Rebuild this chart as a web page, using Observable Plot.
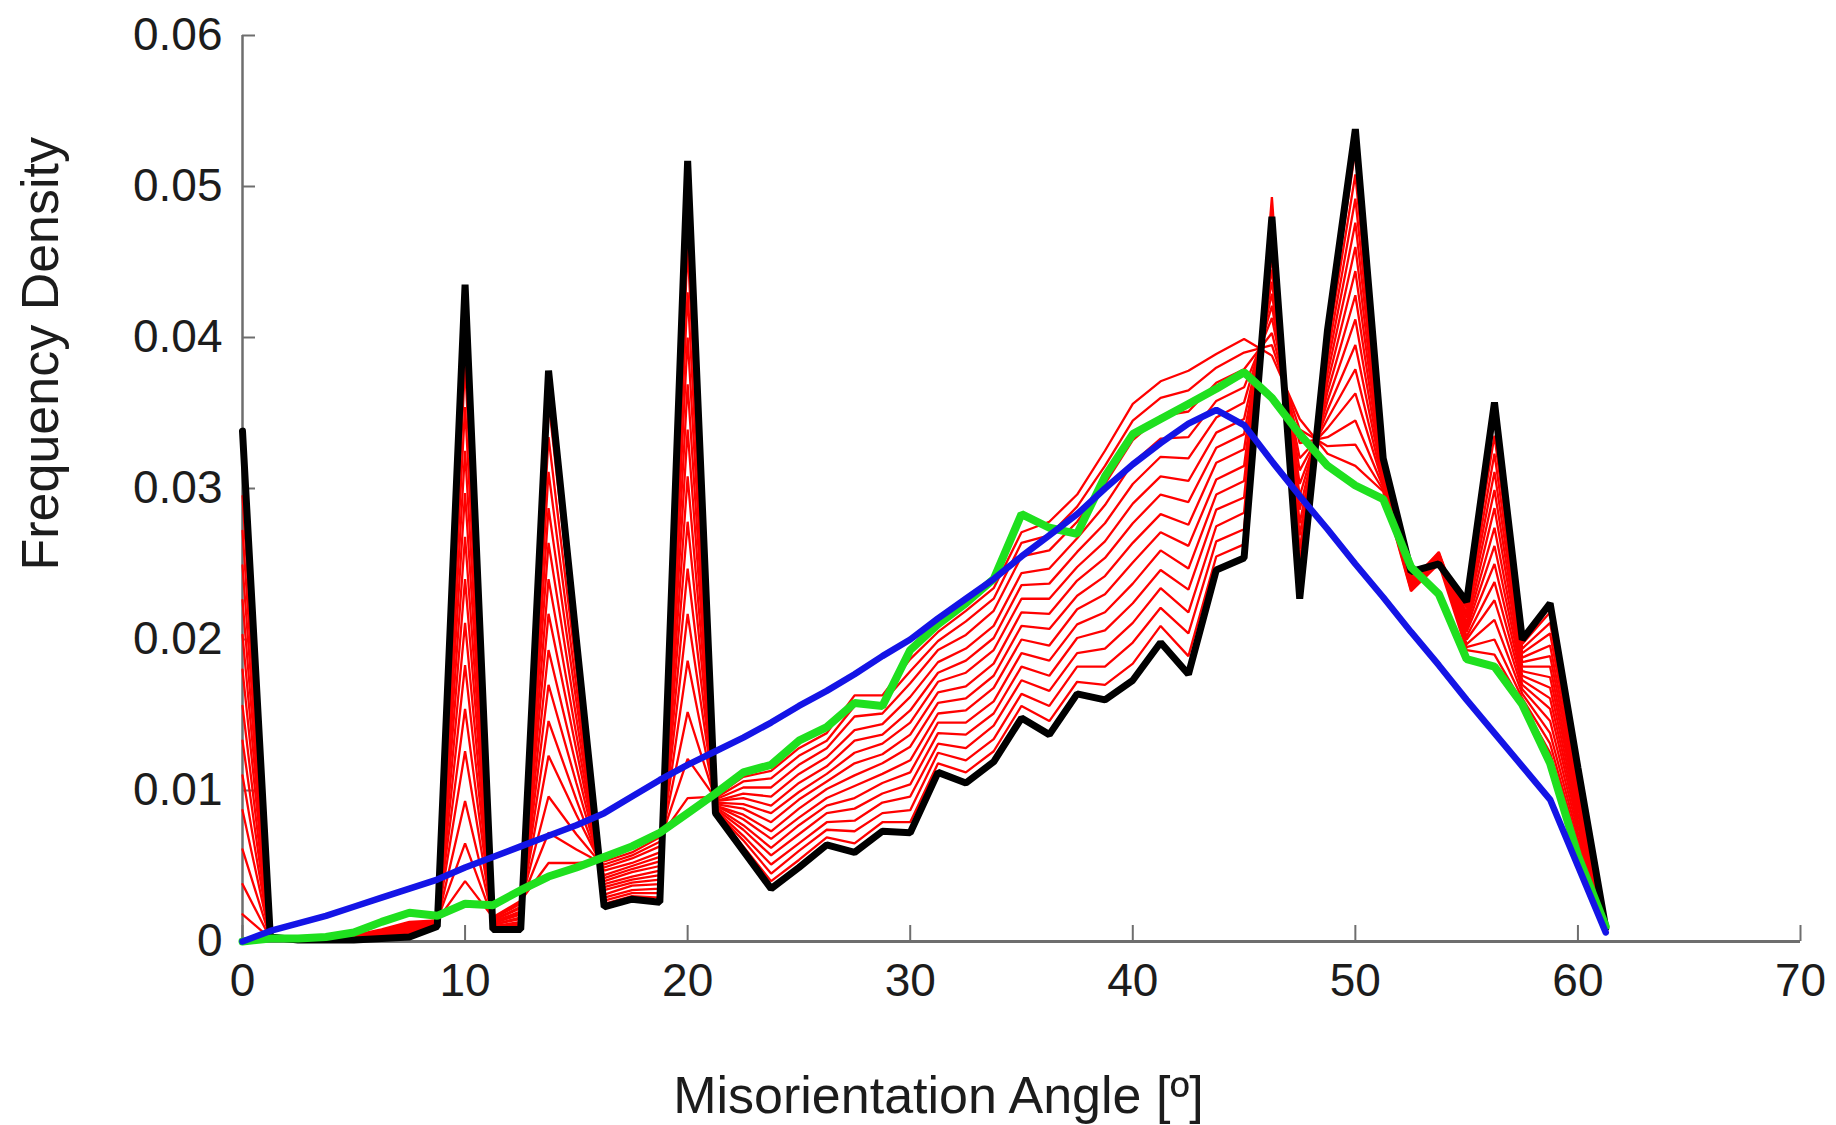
<!DOCTYPE html>
<html><head><meta charset="utf-8">
<script src="https://cdn.jsdelivr.net/npm/d3@7"></script>
<script src="https://cdn.jsdelivr.net/npm/@observablehq/plot@0.6"></script>
<style>html,body{margin:0;padding:0;background:#fff;} svg{display:block}</style>
</head><body><div id="chart"></div>
<script>
// All densities below are stored in units of 1e-4 (e.g. 338 -> 0.0338)
const SCALE = 1e-4;
const angle = [0,1.25,2.5,3.75,5,6.25,7.5,8.75,10,11.25,12.5,13.75,15,16.25,17.5,18.75,20,21.25,22.5,23.75,25,26.25,27.5,28.75,30,31.25,32.5,33.75,35,36.25,37.5,38.75,40,41.25,42.5,43.75,45,46.25,47.5,48.75,50,51.25,52.5,53.75,55,56.25,57.5,58.75,60,61.25];

// initial distribution (black)
const black = [338,3,1,1,1,2,3,10,435,8,8,378,200,23,28,26,517,85,60,35,49,64,59,73,72,112,105,119,148,137,164,160,173,198,177,246,254,480,227,405,538,320,245,250,225,357,200,224,115,9];
// final distribution (green)
const green = [0,2,2,3,6,13,19,17,25,24,34,43,49,56,63,72,85,98,112,117,133,142,158,156,193,210,224,240,283,274,270,308,336,346,356,366,377,360,336,315,302,293,248,230,187,182,157,118,57,10];
// reference (blue)
const blue = [0,7,12,17,23,29,35,41,49,56,63,70,77,85,96,107,117,126,135,145,156,166,177,189,200,214,227,240,255,269,283,300,316,330,343,352,342,318,295,273,250,228,205,183,160,138,116,94,50,6];

// intermediate distributions (red)
const red1 = [318,3,1,1,1,2,4,10,411,8,9,358,191,25,30,29,491,86,63,40,54,69,65,79,79,118,112,126,156,146,172,170,184,209,189,255,263,493,234,400,524,319,244,251,223,347,197,218,112,9];
const red2 = [295,3,1,1,1,3,4,11,382,9,11,334,180,27,32,32,460,86,67,45,60,74,73,85,87,125,120,134,164,156,182,182,198,221,204,265,273,485,243,394,508,317,243,252,221,335,194,211,108,9];
const red3 = [272,3,1,1,2,3,5,11,354,10,12,311,169,29,34,35,430,87,70,51,65,79,80,92,96,131,128,143,173,166,191,194,211,234,218,275,284,477,252,388,492,315,242,253,218,323,191,204,104,9];
const red4 = [249,3,1,2,2,4,6,11,325,10,13,287,159,31,37,38,400,88,74,57,71,85,88,98,104,138,137,151,182,176,201,206,224,246,233,286,294,469,260,382,476,314,242,254,216,311,188,196,100,9];
const red5 = [226,3,1,2,2,4,6,11,297,11,15,264,148,34,39,41,369,89,77,62,77,90,95,105,112,145,145,159,191,186,210,218,237,259,247,296,305,461,269,376,460,312,241,255,214,299,185,189,96,9];
const red6 = [203,3,1,2,2,4,7,12,268,11,16,240,137,36,41,44,339,90,81,68,82,95,103,111,120,151,153,168,200,196,220,230,251,271,262,306,315,453,277,370,444,311,240,256,211,287,182,182,92,10];
const red7 = [180,3,1,2,2,5,8,12,240,12,18,217,127,38,43,47,308,90,84,73,88,101,110,118,129,158,161,176,209,207,229,242,264,283,276,317,326,445,286,364,428,309,239,257,209,274,179,175,89,10];
const red8 = [156,2,2,2,3,5,9,12,211,12,19,193,116,40,46,50,278,91,88,79,94,106,118,124,137,165,169,184,218,217,239,254,277,296,291,327,336,437,295,358,412,307,238,258,207,262,176,168,85,10];
const red9 = [133,2,2,2,3,6,9,12,183,13,20,170,105,42,48,53,247,92,91,85,99,111,125,131,145,172,178,193,227,227,248,265,290,308,305,337,346,429,303,352,395,306,237,257,205,250,173,161,81,10];
const red10 = [110,2,2,2,3,6,10,13,154,14,22,146,94,44,50,56,217,93,95,90,105,116,133,137,153,178,186,201,236,237,258,277,303,321,320,347,357,421,312,346,379,304,236,256,202,238,170,154,77,10];
const red11 = [87,2,2,3,3,7,11,13,126,14,23,123,84,47,52,59,186,93,98,96,111,122,140,144,162,185,194,209,244,247,267,289,317,333,334,358,367,413,320,340,363,303,235,255,200,226,167,146,73,10];
const red12 = [61,2,2,3,4,7,11,13,93,15,25,96,71,49,55,63,152,94,102,102,117,128,149,151,171,193,203,219,255,259,278,303,332,348,351,370,379,403,330,334,345,301,234,254,197,213,164,138,69,10];
const red13 = [38,2,2,3,4,7,12,14,65,15,26,72,61,51,57,66,121,95,106,108,123,133,156,158,179,199,212,227,264,269,288,315,345,360,365,380,390,395,339,328,329,299,233,252,195,200,161,131,65,10];
const red14 = [18,2,2,3,4,8,13,14,40,16,27,52,52,53,59,69,95,96,109,113,128,138,163,163,187,205,219,234,271,278,296,325,356,371,378,389,399,388,346,323,315,298,232,250,193,190,158,125,62,10];

const xTicks = [0,10,20,30,40,50,60,70];
const yTicks = [0,0.01,0.02,0.03,0.04,0.05,0.06];
const xLabel = "Misorientation Angle [º]";
const yLabel = "Frequency Density";

const reds = [red1,red2,red3,red4,red5,red6,red7,red8,red9,red10,red11,red12,red13,red14];
const toRows = (arr, run) => arr.map((v, k) => ({x: angle[k], y: v * SCALE, run}));
const redRows = reds.flatMap((arr, i) => toRows(arr, i));

const W = 1836, H = 1125, ML = 242, MR = 36, MT = 35, MB = 184;
const plotW = W - ML - MR, plotH = H - MT - MB;
const axisGray = "#6e6e6e";

const chart = Plot.plot({
  width: W, height: H,
  marginLeft: ML, marginRight: MR, marginTop: MT, marginBottom: MB,
  style: {fontFamily: "'Liberation Sans', Arial, Helvetica, sans-serif", fontSize: "46px", color: "#1c1c1c", background: "#fff"},
  x: {domain: [0, 70], label: null},
  y: {domain: [0, 0.06], label: null},
  marks: [
    Plot.ruleX([0], {stroke: axisGray, strokeWidth: 2.5}),
    Plot.ruleY([0], {stroke: axisGray, strokeWidth: 3}),
    Plot.tickX(xTicks, {x: d => d, insetTop: plotH - 16, stroke: axisGray, strokeWidth: 2}),
    Plot.tickY(yTicks, {y: d => d, insetRight: plotW - 13, stroke: axisGray, strokeWidth: 2}),
    Plot.axisX(xTicks, {tickSize: 0, tickPadding: 22, fontSize: 46, label: null}),
    Plot.axisY(yTicks, {tickSize: 0, tickPadding: 20, fontSize: 46, label: null, tickFormat: d => `${d}`}),
    Plot.line(redRows, {x: "x", y: "y", z: "run", stroke: "#ff0000", strokeWidth: 2.3, strokeLinejoin: "miter"}),
    Plot.line(toRows(black, 0), {x: "x", y: "y", stroke: "#000000", strokeWidth: 7, strokeLinejoin: "miter"}),
    Plot.line(toRows(green, 0), {x: "x", y: "y", stroke: "#1fe01f", strokeWidth: 8, strokeLinejoin: "miter"}),
    Plot.line(toRows(blue, 0), {x: "x", y: "y", stroke: "#1414e6", strokeWidth: 6.5, strokeLinejoin: "miter"}),
    Plot.text([xLabel], {text: d => d, frameAnchor: "bottom", dx: -83, dy: 171, lineAnchor: "bottom", fontSize: 52, fill: "#1c1c1c"}),
    Plot.text([yLabel], {text: d => d, frameAnchor: "left", rotate: -90, dx: -201, dy: 82, lineAnchor: "middle", fontSize: 52, fill: "#1c1c1c"})
  ]
});
document.getElementById("chart").appendChild(chart);
</script>
</body></html>
